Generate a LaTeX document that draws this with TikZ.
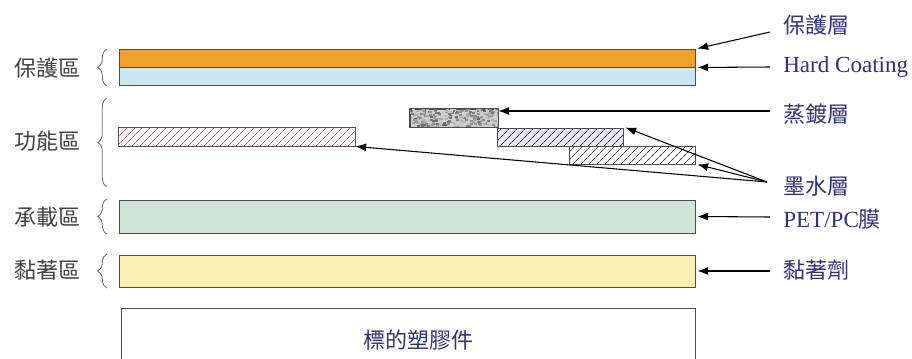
\documentclass[tikz,border=0pt]{standalone}
\usepackage{fontspec}
\setmainfont{Liberation Serif}
\newfontfamily\cjk{Noto Sans CJK TC}
\usepackage{xcolor}
\usetikzlibrary{arrows.meta, calc, fit, patterns.meta, decorations.pathreplacing}
\definecolor{protorange}{RGB}{240,161,42}
\definecolor{hardblue}{RGB}{201,230,241}
\definecolor{petgreen}{RGB}{205,230,213}
\definecolor{glueyellow}{RGB}{250,240,178}
\definecolor{inkred}{RGB}{214,70,85}
\definecolor{inkblue}{RGB}{40,40,110}
\definecolor{inkbg}{RGB}{232,232,248}
\definecolor{labblue}{RGB}{46,50,122}
\tikzset{
  bar/.style={rectangle, draw=black!70, line width=0.7pt, inner sep=0pt},
  hatch/.style={pattern={Lines[angle=45, distance=4pt, line width=0.65pt]}},
  lbl/.style={font=\fontsize{17.3}{19}\selectfont, text=labblue, anchor=west, inner sep=0pt},
  cjklbl/.style={lbl, font=\fontsize{16.5}{18}\selectfont\cjk},
  zone/.style={font=\fontsize{16.5}{18}\selectfont\cjk, text=black!75, anchor=east, inner sep=0pt},
  brc/.style={decorate, decoration={brace, amplitude=7pt, aspect=0.5}, draw=black!60, line width=0.6pt},
  fl/.style={-{Latex[length=8pt,width=6pt]}, line width=0.8pt}
}

\begin{document}
\begin{tikzpicture}[x=0.75pt, y=-0.75pt]
\clip (0,0) rectangle (912,358);
% layers
\node[bar, fill=protorange, fit={(119,49) (695,67)}] (prot) {};
\node[bar, fill=hardblue, fit={(119,67) (695,85)}] (hard) {};
\node[bar, hatch, pattern color=inkred, fit={(118,127) (355,146)}] (inkr) {};
\node[bar, fill=gray!40, fit={(410,109) (498,127)}] (evap) {};
\begin{scope}
  \clip (evap.south west) rectangle (evap.north east);
  \pgfmathsetseed{7}
  \foreach \i in {1,...,260}{
    \pgfmathsetmacro{\px}{410+88*rnd}
    \pgfmathsetmacro{\py}{108+19*rnd}
    \pgfmathtruncatemacro{\pg}{15+45*rnd}
    \fill[black!\pg] (\px,\py) rectangle ++(3,2);
  }
\end{scope}
\draw[black!70, line width=0.7pt] (evap.south west) rectangle (evap.north east);
\node[bar, preaction={fill=inkbg}, hatch, pattern color=inkblue, fit={(497,128) (623,146)}] (inkb) {};
\node[bar, preaction={fill=white}, hatch, pattern color=black!75, fit={(569,146) (695,164)}] (inkk) {};
\node[bar, fill=petgreen, fit={(119,200) (695,233)}] (pet) {};
\node[bar, fill=glueyellow, fit={(119,255) (695,287)}] (glue) {};
\node[bar, fill=white, fit={(121,308) (695,380)}] (part) {};
\node[font=\fontsize{16.5}{18}\selectfont\cjk, text=labblue] (tpart) at (418,340) {標的塑膠件};

% zones
\draw[brc] (107,86) -- (107,49);
\draw[brc] (107,187) -- (107,98);
\draw[brc] (107,234) -- (107,199);
\draw[brc] (107,288) -- (107,254);
\node[zone] (zprot) at (81,68) {保護區};
\node[zone] (zfunc) at (81,141) {功能區};
\node[zone] (zpet) at (81,217) {承載區};
\node[zone] (zglue) at (81,270) {黏著區};

% labels
\node[cjklbl] (lprot) at (783,25) {保護層};
\node[lbl] (lhard) at (783,67) {Hard Coating};
\node[cjklbl] (levap) at (783,114) {蒸鍍層};
\node[cjklbl] (link) at (783,186) {墨水層};
\node[lbl] (lpet) at (783,219) {PET/PC{\fontsize{16.5}{18}\selectfont\cjk 膜}};
\node[cjklbl] (lglue) at (783,270) {黏著劑};

\draw[fl] ($(lprot.west)+(-13,7)$) -- ([xshift=1.5pt]prot.north east);
\draw[fl] ($(lhard.west)+(-13,0)$) -- ([xshift=1.5pt]prot.south east);
\coordinate (sevap) at ($(levap.west)+(-13,-3)$);
\draw[fl] (sevap) -- (sevap -| evap.east);
\coordinate (sink) at ($(link.west)+(-16,-4)$);
\draw[fl] (sink) -- ([xshift=1.5pt]inkb.north east);
\draw[fl] (sink) -- ([xshift=1.5pt]inkk.south east);
\draw[fl] (sink) -- (inkr.south east);
\draw[fl] ($(lpet.west)+(-13,-2)$) -- ([xshift=1.5pt]pet.east);
\draw[fl] ($(lglue.west)+(-13,1)$) -- ([xshift=1.5pt]glue.east);
\end{tikzpicture}
\end{document}
